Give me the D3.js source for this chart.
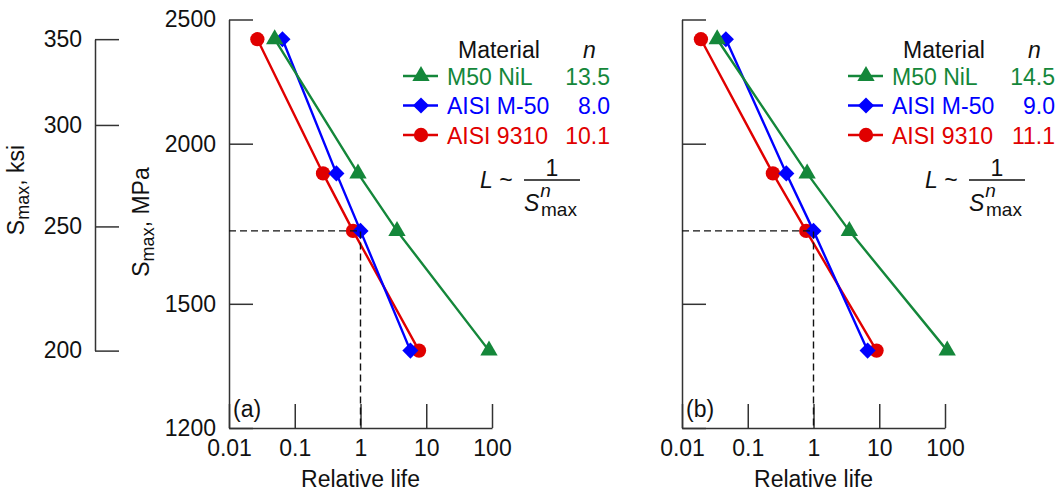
<!DOCTYPE html>
<html>
<head>
<meta charset="utf-8">
<script src="https://cdn.jsdelivr.net/npm/d3@7"></script>
<style>
  body { margin: 0; background: #fff; }
  svg { display: block; font-family: "Liberation Sans", Arial, sans-serif; }
</style>
</head>
<body>
<div id="chart"></div>
<script>
// Datos
const xTicks = [0.01, 0.1, 1, 10, 100]
const mpaTicks = [2500, 2000, 1500, 1200]
const ksiTicks = [200, 250, 300, 350]
const stressMPa = [2413, 1896, 1710, 1379]
const materials = ["M50 NiL", "AISI M-50", "AISI 9310"]
const colors = ["#14873a", "#0000ff", "#e00000"]
const symbols = ["triangle", "diamond", "circle"]

// panel (a)
const nA = ["13.5", "8.0", "10.1"]
const lifeA_M50NiL = [0.0495, 0.916, 3.59, 90]
const lifeA_M50 = [0.065, 0.43, 1.0, 5.74]
const lifeA_9310 = [0.027, 0.269, 0.77, 7.76]

// panel (b)
const nB = ["14.5", "9.0", "11.1"]
const lifeB_M50NiL = [0.0343, 0.80, 3.51, 108]
const lifeB_M50 = [0.0465, 0.386, 1.0, 6.65]
const lifeB_9310 = [0.0194, 0.241, 0.774, 9.1]

const refLife = 1
const refStress = 1710
const MPA_PER_KSI = 6.895

const panels = [
  {label: "(a)", x0: 229, legendDx: 174, n: nA, lives: [lifeA_M50NiL, lifeA_M50, lifeA_9310], yLabels: true},
  {label: "(b)", x0: 682, legendDx: 166, n: nB, lives: [lifeB_M50NiL, lifeB_M50, lifeB_9310], yLabels: false}
]

const W = 1061, H = 496
const fs = 23
const plotTop = 19.5, plotBottom = 428, plotW = 263

const svg = d3.select("#chart").append("svg")
  .attr("width", W).attr("height", H)

svg.append("rect").attr("width", W).attr("height", H).attr("fill", "#fff")

const y = d3.scaleLog().domain([1200, 2500]).range([plotBottom, plotTop])

function styleAxis(g) {
  g.select(".domain").attr("stroke", "#333").attr("stroke-width", 1.5)
  g.selectAll(".tick line").attr("stroke", "#333").attr("stroke-width", 1.5)
  g.selectAll(".tick text").attr("fill", "#111").attr("font-size", fs)
    .attr("font-family", "Liberation Sans, Arial, sans-serif")
}

// Eje ksi a la izquierda
const ksi = d3.scaleLog().domain([200, 350])
  .range([y(200 * MPA_PER_KSI), y(350 * MPA_PER_KSI)])
svg.append("g")
  .attr("transform", "translate(95,0)")
  .call(d3.axisLeft(ksi).tickValues(ksiTicks).tickFormat(d3.format("d"))
    .tickSizeInner(-24).tickSizeOuter(0).tickPadding(13))
  .call(styleAxis)

function sMax(sel, x, yy, rest) {
  const t = sel.append("text")
    .attr("transform", `translate(${x},${yy}) rotate(-90)`)
    .attr("text-anchor", "middle").attr("font-size", fs).attr("fill", "#111")
  t.append("tspan").text("S")
  t.append("tspan").attr("font-size", 18).attr("dy", 5).text("max")
  t.append("tspan").attr("dy", -5).text(rest)
}
sMax(svg, 24, 190, ", ksi")
sMax(svg, 149, 222, ", MPa")

const shape = {
  triangle: d3.symbol().type(d3.symbolTriangle).size(130),
  diamond: d3.symbol().type(d3.symbolSquare).size(130),
  circle: d3.symbol().type(d3.symbolCircle).size(160)
}

panels.forEach(p => {
  const x = d3.scaleLog().domain([0.01, 100]).range([p.x0, p.x0 + plotW])
  const g = svg.append("g")

  // Ejes
  g.append("g")
    .attr("transform", `translate(0,${plotBottom})`)
    .call(d3.axisBottom(x).tickValues(xTicks).tickFormat(d => String(d))
      .tickSizeInner(-24).tickSizeOuter(0).tickPadding(12))
    .call(styleAxis)

  g.append("g")
    .attr("transform", `translate(${p.x0},0)`)
    .call(d3.axisLeft(y).tickValues(mpaTicks).tickFormat(p.yLabels ? d3.format("d") : () => "")
      .tickSizeInner(-24).tickSizeOuter(0).tickPadding(13))
    .call(styleAxis)

  g.append("text")
    .attr("x", x(1)).attr("y", 487)
    .attr("text-anchor", "middle").attr("font-size", fs).attr("fill", "#111")
    .text("Relative life")

  g.append("text")
    .attr("x", p.x0 + 4).attr("y", 417)
    .attr("font-size", fs).attr("fill", "#111")
    .text(p.label)

  // Series (rojo debajo, verde encima)
  const line = d3.line().x(d => x(d[0])).y(d => y(d[1]))
  ;[2, 1, 0].forEach(i => {
    const pts = p.lives[i].map((v, j) => [v, stressMPa[j]])
    g.append("path")
      .datum(pts)
      .attr("fill", "none")
      .attr("stroke", colors[i])
      .attr("stroke-width", 2.4)
      .attr("d", line)
    g.selectAll(null)
      .data(pts)
      .join("path")
      .attr("transform", d => `translate(${x(d[0])},${y(d[1])})` + (symbols[i] === "diamond" ? " rotate(45)" : ""))
      .attr("d", shape[symbols[i]]())
      .attr("fill", colors[i])
  })

  // Línea de referencia discontinua
  g.append("path")
    .attr("fill", "none")
    .attr("stroke", "#111")
    .attr("stroke-width", 1.4)
    .attr("stroke-dasharray", "7,4")
    .attr("d", d3.line()([[x(0.01), y(refStress)], [x(refLife), y(refStress)], [x(refLife), y(1200)]]))

  // Leyenda
  const lx = p.x0 + p.legendDx
  g.append("text").attr("x", lx + 55).attr("y", 58)
    .attr("font-size", fs).attr("fill", "#111").text("Material")
  g.append("text").attr("x", lx + 180).attr("y", 58)
    .attr("font-size", fs).attr("font-style", "italic").attr("fill", "#111").text("n")

  materials.forEach((m, i) => {
    const ly = 76 + i * 29.5
    g.append("line")
      .attr("x1", lx).attr("x2", lx + 35).attr("y1", ly).attr("y2", ly)
      .attr("stroke", colors[i]).attr("stroke-width", 2.4)
    g.append("path")
      .attr("transform", `translate(${lx + 18},${ly})` + (symbols[i] === "diamond" ? " rotate(45)" : ""))
      .attr("d", shape[symbols[i]]())
      .attr("fill", colors[i])
    g.append("text").attr("x", lx + 44).attr("y", ly + 8.5)
      .attr("font-size", fs).attr("fill", colors[i]).text(m)
    g.append("text").attr("x", lx + 207).attr("y", ly + 8.5)
      .attr("text-anchor", "end")
      .attr("font-size", fs).attr("fill", colors[i]).text(p.n[i])
  })

  // Fórmula L ~ 1 / S^n_max
  const fx = lx + 77
  g.append("text").attr("x", fx).attr("y", 188)
    .attr("font-size", fs).attr("fill", "#111")
    .call(t => {
      t.append("tspan").attr("font-style", "italic").text("L")
      t.append("tspan").text(" ~")
    })
  g.append("text").attr("x", fx + 72).attr("y", 176)
    .attr("text-anchor", "middle").attr("font-size", fs).attr("fill", "#111").text("1")
  g.append("line")
    .attr("x1", fx + 44).attr("x2", fx + 100).attr("y1", 180).attr("y2", 180)
    .attr("stroke", "#111").attr("stroke-width", 1.3)
  const s = g.append("text").attr("x", fx + 44).attr("y", 211)
    .attr("font-size", fs).attr("fill", "#111")
  s.append("tspan").attr("font-style", "italic").text("S")
  s.append("tspan").attr("font-style", "italic").attr("font-size", 19).attr("dx", 1).attr("dy", -14).text("n")
  s.append("tspan").attr("font-size", 19).attr("x", fx + 61).attr("dy", 19).text("max")
})
</script>
</body>
</html>
